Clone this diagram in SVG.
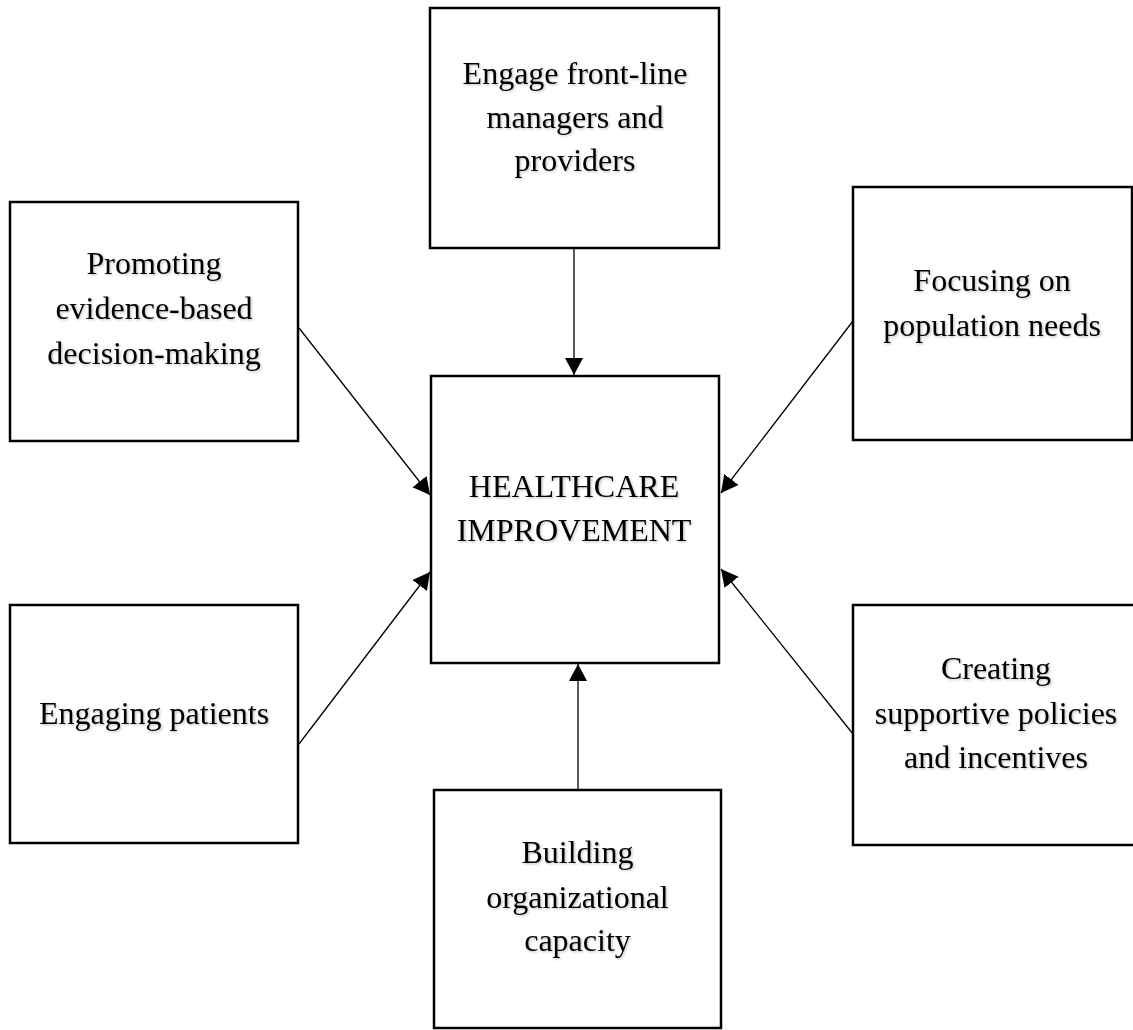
<svg xmlns="http://www.w3.org/2000/svg" width="1133" height="1030" viewBox="0 0 1133 1030">
<style>
.box{fill:#fff;stroke:#000;stroke-width:2.5}
.lbl{font-family:"Liberation Serif","Times New Roman",serif;font-size:32px;fill:#000;text-anchor:middle;filter:url(#sh)}
.con{stroke:#000;stroke-width:1.3;fill:none;marker-end:url(#ah)}
</style>
<defs>
<filter id="sh" x="-10%" y="-30%" width="120%" height="160%">
<feDropShadow dx="1.2" dy="1.2" stdDeviation="1" flood-color="#000" flood-opacity="0.25"/>
</filter>
<marker id="ah" markerUnits="userSpaceOnUse" markerWidth="20" markerHeight="20" refX="17" refY="9" orient="auto">
<path d="M0,0 L17,9 L0,18 Z" fill="#000"/>
</marker>
</defs>
<rect width="1133" height="1030" fill="#fff"/>
<g id="connectors">
<line class="con" x1="574" y1="249" x2="574" y2="375"/>
<line class="con" x1="578" y1="789" x2="578" y2="664"/>
<line class="con" x1="299" y1="328" x2="430" y2="495"/>
<line class="con" x1="299" y1="744" x2="430" y2="572"/>
<line class="con" x1="853" y1="321" x2="721" y2="493"/>
<line class="con" x1="853" y1="734" x2="721" y2="569"/>
</g>
<g id="node-top">
<rect class="box" x="430" y="8" width="289" height="240"/>
<text class="lbl" x="575" y="84">Engage front-line</text>
<text class="lbl" x="575" y="128">managers and</text>
<text class="lbl" x="575" y="171">providers</text>
</g>
<g id="node-center">
<rect class="box" x="431" y="376" width="288" height="287"/>
<text class="lbl" x="574" y="497">HEALTHCARE</text>
<text class="lbl" x="574" y="541">IMPROVEMENT</text>
</g>
<g id="node-left-top">
<rect class="box" x="10" y="202" width="288" height="239"/>
<text class="lbl" x="154" y="274">Promoting</text>
<text class="lbl" x="154" y="319">evidence-based</text>
<text class="lbl" x="154" y="364">decision-making</text>
</g>
<g id="node-right-top">
<rect class="box" x="853" y="187" width="279" height="253"/>
<text class="lbl" x="992" y="291">Focusing on</text>
<text class="lbl" x="992" y="336">population needs</text>
</g>
<g id="node-left-bottom">
<rect class="box" x="10" y="605" width="288" height="238"/>
<text class="lbl" x="154" y="724">Engaging patients</text>
</g>
<g id="node-right-bottom">
<rect class="box" x="853" y="605" width="290" height="240"/>
<text class="lbl" x="996" y="679">Creating</text>
<text class="lbl" x="996" y="724">supportive policies</text>
<text class="lbl" x="996" y="768">and incentives</text>
</g>
<g id="node-bottom">
<rect class="box" x="434" y="790" width="287" height="238"/>
<text class="lbl" x="577.5" y="863">Building</text>
<text class="lbl" x="577.5" y="908">organizational</text>
<text class="lbl" x="577.5" y="951">capacity</text>
</g>
</svg>
